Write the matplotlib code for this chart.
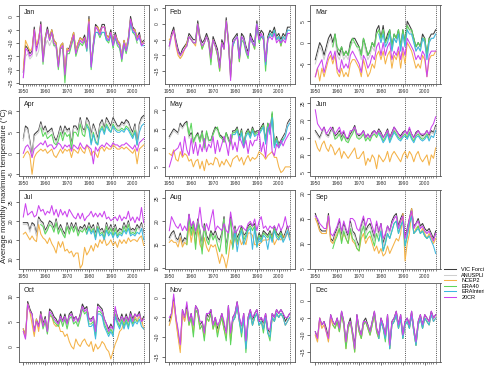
import numpy as np
import matplotlib
matplotlib.use("Agg")
import matplotlib.pyplot as plt

years = list(range(1950, 2006))
years_era40 = list(range(1958, 2003))
years_erai = list(range(1979, 2006))
series_names = ["VIC Forcing", "ANUSPLIN", "NCEP2", "ERA40", "ERAInterim", "20CR"]
months = ["Jan", "Feb", "Mar", "Apr", "May", "Jun", "Jul", "Aug", "Sep", "Oct", "Nov", "Dec"]
xtick_labels = [1950, 1960, 1970, 1980, 1990, 2000]

# ---------------- January ----------------
jan_vic = [-21,-11,-12,-14,-13,-4,-12,-9,-2,-16, -8,-4,-8,-5,-9,-10,-18,-11,-10,-21, -12,-12,-9,-6,-13,-10,-8,-9,-7,-11, 0,-18,-10,-3,-4,-6,-3,-3,-7,-8, -5,-10,-6,-9,-10,-15,-9,-12,-8,0, -4,-5,-8,-6,-10,-9]
jan_anus = [-23,-15,-14,-16,-15,-8,-15,-13,-7,-17, -11,-9,-11,-9,-11,-12,-19,-12,-11,-21, -12,-13,-10,-7,-13,-11,-9,-10,-8,-12, -2,-18,-11,-4,-5,-7,-4,-4,-8,-9, -6,-11,-7,-10,-11,-15,-10,-12,-9,-2, -5,-6,-9,-7,-11,-10]
jan_ncep = [-20,-9,-11,-13,-12,-5,-11,-8,-3,-16, -8,-5,-8,-5,-9,-10,-18,-11,-10,-21, -12,-13,-9,-6,-13,-10,-8,-9,-8,-11, -1,-18,-11,-4,-4,-6,-4,-4,-7,-8, -6,-10,-7,-9,-10,-15,-9,-12,-8,-1, -5,-5,-8,-7,-10,-10]
jan_era40 = [-4,-18, -9,-5,-9,-6,-11,-11,-20,-12,-12,-25, -14,-14,-11,-8,-15,-12,-10,-11,-9,-13, -3,-20,-12,-6,-6,-8,-6,-6,-9,-10, -7,-12,-8,-11,-12,-17,-11,-14,-10,-2, -6,-7,-10]
jan_erai = [-13, -3,-19,-11,-6,-6,-7,-6,-6,-9,-9, -7,-11,-8,-10,-11,-16,-10,-13,-9,-2, -6,-6,-9,-8,-11,-11]
jan_20cr = [-23,-12,-13,-15,-14,-5,-13,-9,-3,-17, -9,-5,-9,-6,-10,-11,-19,-12,-11,-22, -13,-13,-10,-7,-14,-11,-9,-10,-8,-12, -2,-19,-11,-4,-5,-7,-4,-4,-8,-9, -6,-11,-7,-10,-11,-16,-10,-13,-9,-1, -5,-6,-9,-7,-11,-10]

# ---------------- February ----------------
feb_vic = [-7,-3,-1,-5,-8,-10,-8,-7,-6,-3, -4,-5,-5,1,-4,-6,-5,-3,-5,-10, -4,-6,-8,-13,-5,-7,2,-5,-15,-5, -4,-3,-10,-3,-4,-7,-9,-3,-5,-6, 1,-4,-2,-3,-12,-4,-2,-3,-1,-4, -3,-5,-3,-4,-1,-1]
feb_anus = [-8,-4,-2,-6,-9,-11,-9,-8,-7,-4, -5,-6,-6,0,-5,-7,-6,-4,-6,-11, -5,-7,-9,-14,-6,-8,1,-6,-16,-6, -5,-4,-11,-4,-5,-8,-10,-4,-6,-7, 0,-5,-3,-4,-13,-5,-3,-4,-2,-5, -4,-6,-4,-5,-2,-2]
feb_ncep = [-5,-4,-2,-7,-10,-11,-10,-8,-6,-4, -5,-6,-7,0,-5,-8,-6,-4,-6,-12, -5,-7,-10,-15,-6,-8,1,-6,-17,-7, -5,-4,-12,-4,-5,-8,-10,-4,-6,-8, 0,-5,-4,-4,-13,-5,-3,-4,-2,-5, -4,-7,-4,-5,-3,-3]
feb_era40 = [-7,-4, -5,-6,-6,0,-5,-8,-6,-4,-6,-13, -5,-7,-10,-15,-6,-8,1,-6,-17,-7, -5,-4,-12,-5,-6,-9,-11,-4,-6,-8, 0,-6,-4,-5,-15,-5,-3,-4,-2,-5, -4,-7,-4]
feb_erai = [-7, -5,-4,-11,-4,-5,-8,-10,-4,-6,-7, 0,-5,-4,-4,-13,-5,-3,-4,-2,-5, -4,-6,-4,-5,-2,-2]
feb_20cr = [-7,-4,-2,-6,-9,-10,-9,-8,-7,-4, -5,-6,-6,0,-5,-7,-6,-4,-6,-11, -5,-7,-9,-14,-6,-8,1,-6,-18,-6, -5,-4,-11,-4,-5,-8,-10,-4,-6,-7, 0,-5,-3,-5,-12,-5,-4,-5,-3,-6, -5,-6,-5,-6,-3,-3]

# ---------------- March ----------------
mar_vic = [-4,-2,0,-1,-3,-1,1,2,0,2, -2,-3,-1,-3,-2,-3,0,1,1,0, -1,-3,1,-1,-3,-2,0,-1,3,4, 1,4,0,2,3,-1,2,1,3,-1, 3,0,5,4,3,1,-1,0,-1,2, 1,-3,1,2,2,3]
mar_anus = [-5,-3,-1,-2,-4,-2,0,1,-1,1, -3,-4,-2,-4,-3,-4,-1,0,0,-1, -2,-4,0,-2,-4,-3,-1,-2,2,3, 0,3,-1,1,2,-2,1,0,2,-2, 2,-1,4,3,2,0,-2,-1,-2,1, 0,-4,0,1,1,2]
mar_ncep = [-8,-6,-9,-6,-8,-6,-4,-3,-5,-3, -7,-8,-6,-8,-7,-8,-5,-4,-4,-5, -6,-8,-4,-6,-8,-7,-5,-6,-3,-2, -4,-2,-5,-3,-2,-6,-3,-4,-2,-6, -2,-5,0,-1,-2,-4,-6,-5,-6,-3, -4,-8,-4,-3,-3,-2]
mar_era40 = [-1,2, -1,-2,-1,-3,-2,-3,-1,1,0,-1, -1,-3,1,-1,-3,-2,0,-1,2,3, 1,3,0,1,3,-1,2,1,3,-1, 3,0,4,3,3,1,-1,0,-1,1, 1,-3,1]
mar_erai = [2, 0,2,-1,0,2,-2,1,0,2,-2, 2,-1,3,2,2,0,-2,-1,-2,1, 0,-4,0,1,1,2]
mar_20cr = [-8,-6,-5,-4,-7,-5,-3,-2,-4,-2, -6,-7,-4,-6,-5,-6,-3,-2,-3,-4, -5,-7,-3,-4,-6,-5,-3,-4,-1,0, -3,0,-3,-1,0,-4,-2,-3,-1,-4, -1,-3,1,0,-1,-2,-4,-3,-4,-2, -3,-8,-3,-2,-2,-2]

# ---------------- April ----------------
apr_vic = [3.5,6.5,6,3,-0.5,4.5,5,5.5,7.5,5.5, 6.5,5,5.5,6,4,3,4.5,6.5,4.5,6.5, 5.5,6,2,6.5,6.5,5.5,8.5,6,5.5,8.5, 7.5,4.5,7,5.5,3.5,7,8,6,8.5,7.5, 6.5,8.5,7.5,6.5,6.5,7.5,7,8,7.5,6, 5,7,2.5,7,8.5,9]
apr_anus = [3,6,5.5,2.5,-1,4,4.5,5,7,5, 6,4.5,5,5.5,3.5,2.5,4,6,4,6, 5,5.5,1.5,6,6,5,8,5.5,5,8, 7,4,6.5,5,3,6.5,7.5,5.5,8,7, 6,8,7,6,6,7,6.5,7.5,7,5.5, 4.5,6.5,2,6.5,8,8.5]
apr_ncep = [-1,0,0.5,-0.5,-5,-1,0,0.5,1,0.5, 1,0,0.5,1,-0.5,-1,0,1,0,1, 0.5,1,-1,1,0.5,0,1.5,0.5,0,2, 1,-0.5,0.5,0,-1,1,1.5,0.5,1.5,1, 1,2,1.5,1,1,1.5,1,1.5,1,0.5, 0,1,-2.5,1,1.5,2]
apr_era40 = [6,4, 5,3.5,4,4.5,2.5,2,3,5,3,5, 4,4.5,1,5,5,4,7,4.5,4,7, 6,2.5,5,3,2,5.5,6.5,5,7,6, 5,7,6,5.5,5.5,6,5.5,6.5,6,5, 4,5.5,2]
apr_erai = [6.5, 5.5,2,4.5,2.5,2,5,6,4.5,6.5,5.5, 5,6.5,5.5,5,5,5.5,5,6,5.5,4.5, 3.5,5,2,5,6.5,7]
apr_20cr = [0,1.5,2,1,-1,1,1.5,2,2.5,2, 3,1.5,2,2,1,1.5,2.5,2,1,2, 1.5,2,0.5,2,1.5,1,2.5,1.5,1,2, 1.5,1,-2.5,1.5,0.5,1.5,2,1.5,2.5,2, 1.5,2.5,2,2,1.5,2,2,2.5,2,1.5, 1,2,0.5,2.5,3,3.5]

# ---------------- May ----------------
may_vic = [13,14,15,14.5,14,16.5,15.5,16.5,17,13, 14,11.5,13,14,12,14.5,10,14,12,12, 14,15.5,15,13.5,13,12,14,12.5,11,14.5, 14.5,15.5,13,15,11,14,15,13.5,15.5,14, 14.5,14.5,15.5,16.5,12,16.5,14.5,19,11,13, 11,12,13,14,16.5,17.5]
may_anus = [12.5,13.5,14.5,14,13.5,16,15,16,16.5,12.5, 13.5,11,12.5,13.5,11.5,14,9.5,13.5,11.5,11.5, 13.5,15,14.5,13,12.5,11.5,13.5,12,10.5,14, 14,15,12.5,14.5,10.5,13.5,14.5,13,15,13.5, 14,14,15,16,11.5,16,14,18.5,10.5,12.5, 10.5,11.5,12.5,13.5,16,17]
may_ncep = [8.5,8,9.5,7,6.5,9,7.5,8.5,8,6.5, 7,5,6.5,7,4.5,6.5,4,7,5.5,6, 5.5,7.5,7,5,6.5,5.5,7,6,5,7, 7.5,8,6.5,7.5,5.5,7,8,6.5,7.5,7, 7.5,9,8.5,8,7,8,8.5,9,7.5,7.5, 5,3.5,4,5,5,5]
may_era40 = [16.5,13.5, 16.5,11.5,13,13.5,11.5,14,10,14.5,12,12, 13.5,15,15.5,13,12.5,11.5,14,12,11,14, 14,15,12.5,14.5,10.5,13.5,14.5,13,15,13.5, 14,14,15,16,11.5,16.5,14,19.5,10.5,12.5, 10.5,11.5,12.5]
may_erai = [13.5, 13.5,14.5,12,14,10,13,14,12.5,14.5,13, 13.5,13.5,14.5,15.5,11,15.5,13.5,18,10,12, 10,11,12,13,15.5,16.5]
may_20cr = [5,7,9,9.5,10,11.5,8,13,9.5,8, 12.5,8.5,11.5,8,11,9,12.5,9,11,10, 13,8.5,12,9,11,13,11,8,13.5,9.5, 11.5,9,13,11.5,10,12,8.5,12,10.5,12, 12,14.5,9,11.5,7.5,14,16.5,9,8,11, 10,12,10.5,12,13,14]

# ---------------- June ----------------
jun_vic = [17,16,15,16.5,18,16,15.5,17,18,15.5, 16,17,15,16.5,15,14.5,16,17,18.5,16, 15.5,16,17,15,16,15,16.5,17,16,17.5, 16.5,15,16,17.5,15,16.5,18,17,16,15.5, 16.5,17,16,17.5,16,15,16.5,17,16,15.5, 16,17,15.5,17,16.5,18.5]
jun_anus = [16.5,15.5,14.5,16,17.5,15.5,15,16.5,17.5,15, 15.5,16.5,14.5,16,14.5,14,15.5,16.5,18,15.5, 15,15.5,16.5,14.5,15.5,14.5,16,16.5,15.5,17, 16,14.5,15.5,17,14.5,16,17.5,16.5,15.5,15, 16,16.5,15.5,17,15.5,14.5,16,16.5,15.5,15, 15.5,16.5,15,16.5,16,18]
jun_ncep = [14,12,11,13,14,12,11,13,12,10, 11,12,9,11,10,9,10,11,12,9, 9,10,11,7,9,8,10,9,6,10, 9,8,9,11,8,10,11,10,9,8, 10,11,9,11,10,8,10,11,9,8, 9,10,7,10,9,12]
jun_era40 = [17,14.5, 15,16,14,15.5,14,13.5,15,16,17.5,15, 14.5,15,16,14,15,14,15.5,16,15,16.5, 15.5,14,15,16.5,14,15.5,17,16,15,14.5, 15.5,16,15,16.5,15,14,15.5,16,15,14.5, 15,16,14.5]
jun_erai = [16, 15,13.5,14.5,16,13.5,15,16.5,15.5,14.5,14, 15,15.5,14.5,16,14.5,13.5,15,15.5,14.5,14, 14.5,15.5,14,15.5,15,17]
jun_20cr = [23,19,18,17,18,16,17,18,17,16, 17,18,16,17,15,15,17,17,18,16, 16,16,17,15,16,15,16,17,16,17, 16,15,16,17,15,16,18,17,16,15, 16,17,16,18,16,15,16,17,16,16, 16,17,16,18,19,21]

# ---------------- July ----------------
jul_vic = [19.5,19.5,19.5,17.5,19.5,19,16.5,21,20,19.5, 17.5,18.5,20,19.5,18,20.5,17.5,19,17.5,16.5, 19.5,17.5,19.5,18,19.5,17,18.5,18,19,17.5, 19.5,18,19,16.5,19.5,17.5,18,16.5,19.5,17.5, 19,17,19,17,18,17.5,19.5,18,20,17.5, 18,17.5,19,18,19.5,17]
jul_anus = [19,19,19,17,19,18.5,16,20.5,19.5,19, 17,18,19.5,19,17.5,20,17,18.5,17,16, 19,17,19,17.5,19,16.5,18,17.5,18.5,17, 19,17.5,18.5,16,19,17,17.5,16,19,17, 18.5,16.5,18.5,16.5,17.5,17,19,17.5,19.5,17, 17.5,17,18.5,17.5,19,16.5]
jul_ncep = [16.5,17,16,15,16,15,14.5,19,16.5,15.5, 15,14,15.5,14,13,11.5,14.5,13,14.5,12, 12.5,11.5,12,10.5,11.5,11.5,7.5,8.5,13,11, 12,13.5,12,14,13,15,14,15.5,13.5,14, 15,13.5,14.5,13,15,14,15,14,15.5,14.5, 15,15,14.5,15.5,16,13.5]
jul_era40 = [19,18.5, 16.5,17.5,19,18.5,17,19.5,16.5,18,16.5,15.5, 18.5,16.5,18.5,17,18.5,16,17.5,17,18,16.5, 18.5,17,18,15.5,18.5,16.5,17,15.5,18.5,16.5, 18,16,18,16,17,16.5,18.5,17,19,16.5, 17,16.5,18]
jul_erai = [16.5, 18,16.5,17.5,15,18,16,16.5,15,17.5,16, 17,15.5,17,15.5,16.5,16,17.5,16.5,18,16, 16.5,16,17,16.5,18,15]
jul_20cr = [21,24.5,21.5,22,22.5,21,21.5,24,22.5,23, 21.5,22.5,22,24,21.5,23,21,23,21.5,22.5, 21,23,22,21,20.5,22,20.5,22,20,21, 21.5,22.5,21,22,21,22,21,22.5,20.5,21, 20,20.5,21,20,21.5,20,21,20.5,22.5,20, 21,19.5,21,20,23.5,19.5]

# ---------------- August ----------------
aug_vic = [16.5,17.5,18,16.5,16,17.5,15.5,16.5,16,21.5, 18,20,16.5,20.5,18,15,19.5,17,16,18, 17,18,16.5,16,17.5,21,14.5,18,21,15.5, 19,16.5,17.5,19,17,17.5,19,19.5,19,19.5, 15.5,17.5,16.5,18,17.5,17,18,16.5,19,17.5, 17,18,16.5,17.5,19,17]
aug_anus = [16,17,17.5,16,15.5,17,15,16,15.5,21, 17.5,19.5,16,20,17.5,14.5,19,16.5,15.5,17.5, 16.5,17.5,16,15.5,17,20.5,14,17.5,20.5,15, 18.5,16,17,18.5,16.5,17,18.5,19,18.5,19, 15,17,16,17.5,17,16.5,17.5,16,18.5,17, 16.5,17.5,16,17,18.5,16.5]
aug_ncep = [15.5,16,15.5,15.5,14.5,16.5,14.5,15.5,15,19, 15.5,18.5,15,18.5,15,14,16.5,14.5,13.5,15, 14.5,15,13,11,13,12,10,12.5,16,14.5, 16.5,15,16.5,15,16,15,17.5,17.5,17,15, 15,15,15.5,16,16,16,16.5,17,15,16, 16.5,16,17,16.5,17.5,16.5]
aug_era40 = [15,21, 17,19.5,14,20,17,13,19,16,15,17.5, 16,17,15,13.5,16.5,20.5,13,17,20.5,14, 18,15.5,17,18.5,16,17,18.5,19,18,19, 14.5,17,16,17.5,17,16.5,17.5,16,18.5,17, 16.5,17.5,16]
aug_erai = [14.5, 18,13.5,16.5,18,15,16.5,18,18.5,14,18.5, 14.5,16.5,15.5,17,16.5,14,17,15.5,18,16.5, 16,17,15.5,16.5,18,16]
aug_20cr = [18,21,20,19,18.5,19.5,18,19,18,21.5, 19,20,18,19.5,23,19,18,19.5,18,20.5, 22.5,18,19,18.5,18,19.5,18,17.5,22,19, 17.5,18,19,19,18.5,18,19.5,20,19,20.5, 18,20,21,18.5,19,18,19,18.5,19,18, 19.5,18,19,21,18.5,19]

# ---------------- September ----------------
sep_vic = [16,14.5,13,12.5,12.5,12.5,16,11,10.5,12, 13,14.5,11.5,14,12.5,11.5,14.5,12.5,12,10.5, 9.5,13.5,15,12.5,13.5,14,12.5,11,14,12, 14,10,11.5,13.5,12.5,14.5,15.5,16,13.5,15, 16,11,13,15,17,13.5,14,15,13.5,14, 13,12.5,13,12,11,12.5]
sep_anus = [15.5,14,12.5,12,12,12,15.5,10.5,10,11.5, 12.5,14,11,13.5,12,11,14,12,11.5,10, 9,13,14.5,12,13,13.5,12,10.5,13.5,11.5, 13.5,9.5,11,13,12,14,15,15.5,13,14.5, 15.5,10.5,12.5,14.5,16.5,13,13.5,14.5,13,13.5, 12.5,12,12.5,11.5,10.5,12]
sep_ncep = [15,14,12.5,12,12,12,15.5,10.5,10,11, 12,13,10.5,12,11,10,12.5,10.5,10,9, 8.5,11,12,10,11,11.5,10,8.5,9.5,8, 9,7.5,8,9.5,8,9,10,11,10.5,12, 16,6.5,10,12,17,12,13,13.5,12,13, 12,11,12,11,10,11]
sep_era40 = [9,10.5, 11.5,13,10,12.5,11,10,13,11,10.5,9, 8.5,12,13.5,11,12,12.5,11,9.5,12,10.5, 12.5,8.5,10,12,11,12.5,14,14.5,12,13.5, 14.5,9.5,11.5,14,15.5,12,12.5,13.5,12,12.5, 11.5,11,11.5]
sep_erai = [10.5, 12.5,8.5,10,12,11,12.5,14,14.5,12,13.5, 14.5,9.5,11.5,14,15.5,12,12.5,13,12,12.5, 11.5,11,11.5,10.5,9.5,8]
sep_20cr = [15.5,15,14,13.5,13,13,15.5,12,11.5,12.5, 13.5,15,12.5,14.5,13,12,15,15,14.5,13, 12.5,14,15.5,13.5,15,15,13.5,12,14.5,12.5, 14,11,12,13.5,12.5,14,15,15.5,13,14.5, 15.5,11,12.5,15,16.5,13,14,14.5,13,13.5, 12.5,12,12.5,11.5,10.5,12]

# ---------------- October ----------------
oct_vic = [3.5,2,9,7.5,6.5,3,5.5,4,7,4.5, 6,3,7.5,7,6,5.5,4.5,6.5,5,6.5, 4.5,6.5,7,5.5,6,5,6.5,8.5,7.5,8, 5.5,5.5,6,3,8.5,8,7.5,5.5,4.5,3.5, 4.5,3.5,7.5,6,5,6.5,5,6.5,5,7, 5.5,6.5,6,7,5,6]
oct_anus = [3,1.5,8.5,7,6,2.5,5,3.5,6.5,4, 5.5,2.5,7,6.5,5.5,5,4,6,4.5,6, 4,6,6.5,5,5.5,4.5,6,8,7,7.5, 5,5,5.5,2.5,8,7.5,7,5,4,3, 4,3,7,5.5,4.5,6,4.5,6,4.5,6.5, 5,6,5.5,6.5,4.5,5.5]
oct_ncep = [3.5,2,8.5,7,4.5,2,5.5,3,6.5,4, 5,3.5,6,6,4.5,4,4.5,3,3,2, 2.5,1,0,-0.5,1.5,0.5,0,1,1.5,0.5, 0,1,-1,0.5,-0.5,0,1,0.5,-0.5,-1, -2.5,-1,0.5,1.5,3,3.5,5,4.5,5,5.5, 4.5,6,5,6,5.5,3.5]
oct_era40 = [6,3.5, 5,2.5,6.5,6,5,4.5,4,5.5,4,5.5, 3.5,5.5,6,4.5,5,4,5.5,7.5,6.5,7, 4.5,4.5,5,2,7,7,6.5,4.5,3.5,2.5, 3.5,2.5,6.5,5,4,5.5,4,5.5,4,6, 4.5,5.5,5]
oct_erai = [6.5, 4,4,4.5,1.5,6.5,6.5,6,4,3,2, 3,2,6,4.5,3.5,5,3.5,5,3.5,5.5, 4,5,4.5,5.5,4,3.5]
oct_20cr = [3,1.5,8.5,7,6.5,3,5,4,6.5,4, 5.5,3,7,6.5,5.5,5,4.5,6,5,6, 4.5,6,6.5,5,6,5,6,8,7,7.5, 5.5,5,6,3,8,7.5,7,5.5,4.5,3, 4,3.5,8,5.5,5,6,5,6,5,6.5, 5,6.5,6,6.5,5,5.5]

# ---------------- November ----------------
nov_vic = [-6,-4,0,-5,-9,-13,-3,-5,-2,-6, -4,-8,-2,-3,-7,-6,-9,-4,-5,-3, -7,-5,-8,-6,-4,-7,-9,-2,-10,-5, -4,-1,-5,-8,-4,-12,-5,-3,-6,-4, -3,-6,-5,-7,-4,-8,-9,-4,-5,-3, -4,-3,-4,-6,-5,-4]
nov_anus = [-7,-5,-1,-5,-10,-13,-4,-6,-3,-6, -5,-8,-3,-4,-7,-7,-10,-5,-5,-4, -7,-6,-9,-6,-5,-8,-9,-3,-11,-6, -5,-2,-6,-8,-5,-12,-6,-4,-6,-5, -4,-7,-6,-7,-5,-9,-9,-5,-6,-4, -5,-4,-5,-7,-6,-5]
nov_ncep = [-7,-5,-1,-6,-10,-14,-4,-6,-3,-7, -5,-9,-3,-4,-8,-7,-10,-5,-6,-4, -8,-6,-9,-7,-5,-8,-10,-3,-11,-6, -5,-2,-6,-9,-5,-13,-6,-4,-7,-5, -4,-7,-6,-8,-5,-9,-10,-5,-6,-4, -5,-4,-5,-7,-6,-5]
nov_era40 = [-3,-7, -5,-10,-3,-4,-8,-7,-11,-5,-6,-4, -8,-6,-10,-7,-5,-8,-11,-3,-12,-6, -5,-2,-6,-10,-5,-14,-6,-4,-7,-5, -4,-7,-6,-9,-5,-9,-11,-5,-6,-4, -5,-4,-5]
nov_erai = [-6, -5,-2,-6,-9,-5,-13,-6,-4,-7,-5, -4,-7,-6,-8,-5,-9,-10,-5,-6,-4, -5,-4,-5,-7,-6,-5]
nov_20cr = [-5,-4,1,-5,-8,-12,-3,-5,-1,-6, -4,-7,-2,-3,-6,-6,-9,-4,-4,-3, -7,-5,-7,-6,-4,-6,-9,-2,-9,-5, -4,-1,-5,-7,-4,-11,-5,-3,-5,-4, -3,-6,-5,-6,-4,-8,-8,-4,-5,-3, -4,-3,-4,-5,-5,-4]

# ---------------- December ----------------
dec_vic = [-9,-11,-5,-7,-6,-8,-11,-4,-6,-7, -5,-8,-3,-6,-12,-7,-5,-9,-13,-4, -8,-10,-6,-5,-7,-9,-6,-3,-8,-10, -5,-7,-10,-4,-13,-6,-5,-3,-7,-4, -10,-6,-5,-7,-3,-8,-12,-6,-4,-7, -4,-5,-6,-3,-5,-4]
dec_anus = [-10,-12,-6,-8,-7,-9,-12,-5,-7,-8, -6,-9,-4,-7,-13,-8,-6,-10,-14,-5, -9,-11,-7,-6,-8,-10,-7,-4,-9,-11, -6,-8,-11,-5,-14,-7,-6,-4,-8,-5, -11,-7,-6,-8,-4,-9,-13,-7,-5,-8, -5,-6,-7,-4,-6,-5]
dec_ncep = [-10,-12,-5,-8,-7,-9,-12,-5,-7,-8, -6,-9,-4,-7,-14,-8,-6,-10,-15,-5, -9,-11,-7,-6,-8,-10,-7,-4,-9,-11, -6,-8,-11,-5,-14,-7,-6,-4,-8,-5, -11,-7,-6,-8,-4,-9,-13,-7,-5,-8, -5,-6,-7,-4,-6,-5]
dec_era40 = [-7,-8, -6,-9,-4,-7,-14,-8,-6,-10,-15,-5, -9,-11,-7,-6,-8,-10,-7,-4,-9,-11, -6,-8,-12,-5,-14,-7,-6,-4,-8,-5, -11,-7,-6,-8,-4,-9,-13,-7,-5,-8, -5,-6,-7]
dec_erai = [-11, -6,-8,-11,-5,-14,-7,-6,-4,-8,-5, -11,-7,-6,-8,-4,-9,-13,-7,-5,-8, -5,-6,-7,-4,-6,-5]
dec_20cr = [-9,-11,-5,-7,-6,-9,-11,-4,-6,-7, -5,-8,-3,-6,-12,-7,-6,-9,-14,-4, -8,-10,-6,-6,-7,-9,-6,-3,-8,-10, -5,-7,-10,-4,-13,-6,-5,-3,-7,-4, -10,-6,-5,-7,-3,-8,-12,-6,-4,-7, -4,-5,-6,-3,-5,-4]

panel_data = [
    (jan_vic, jan_anus, jan_ncep, jan_era40, jan_erai, jan_20cr),
    (feb_vic, feb_anus, feb_ncep, feb_era40, feb_erai, feb_20cr),
    (mar_vic, mar_anus, mar_ncep, mar_era40, mar_erai, mar_20cr),
    (apr_vic, apr_anus, apr_ncep, apr_era40, apr_erai, apr_20cr),
    (may_vic, may_anus, may_ncep, may_era40, may_erai, may_20cr),
    (jun_vic, jun_anus, jun_ncep, jun_era40, jun_erai, jun_20cr),
    (jul_vic, jul_anus, jul_ncep, jul_era40, jul_erai, jul_20cr),
    (aug_vic, aug_anus, aug_ncep, aug_era40, aug_erai, aug_20cr),
    (sep_vic, sep_anus, sep_ncep, sep_era40, sep_erai, sep_20cr),
    (oct_vic, oct_anus, oct_ncep, oct_era40, oct_erai, oct_20cr),
    (nov_vic, nov_anus, nov_ncep, nov_era40, nov_erai, nov_20cr),
    (dec_vic, dec_anus, dec_ncep, dec_era40, dec_erai, dec_20cr),
]
series_years = [years, years, years, years_era40, years_erai, years]

for m, pdat in zip(months, panel_data):
    for name, s, yr in zip(series_names, pdat, series_years):
        assert len(s) == len(yr), (m, name, len(s), len(yr))

# ---------------- styling / layout ----------------
plt.rcParams['font.family'] = ['Liberation Sans', 'DejaVu Sans']
colors = ["#3c3c3c", "#cfcfcf", "#f4b247", "#5cd65c", "#3db8e0", "#cc44ee"]

ylims = [(-25.4, 4.3), (-19.1, 6.05), (-9.7, 8.8),
         (-5.4, 13.4), (2.6, 23.4), (3.9, 26.7),
         (7.3, 28.1), (9.8, 26.7), (4.9, 20.7),
         (-3.1, 12.7), (-16.4, 3.8), (-17.9, 5.3)]
yticks = [[-25, -20, -15, -10, -5, 0], [-15, -10, -5, 0, 5], [-5, 0, 5],
          [-5, 0, 5, 10], [5, 10, 15, 20], [5, 10, 15, 20, 25],
          [10, 15, 20, 25], [10, 15, 20, 25], [5, 10, 15, 20],
          [0, 5, 10], [-15, -10, -5, 0], [-15, -10, -5, 0]]

W, H = 485.0, 366.0
fig = plt.figure(figsize=(4.85, 3.66), dpi=100)
col_left = [18.5, 164.5, 310.5]
col_w = 130
row_top = [5, 97, 190, 283]
row_h = 79

handles = None
for i, (m, pdat) in enumerate(zip(months, panel_data)):
    r, c = divmod(i, 3)
    ax = fig.add_axes([col_left[c] / W, 1 - (row_top[r] + row_h) / H, col_w / W, row_h / H])
    hs = []
    for k, (s, yr) in enumerate(zip(pdat, series_years)):
        h, = ax.plot(yr, s, color=colors[k], lw=0.75, zorder=2 + k * 0.1)
        hs.append(h)
    handles = hs
    ax.axvline(1991, color="#555555", ls=(0, (1, 1.2)), lw=0.7, zorder=1)
    ax.axvline(2005, color="#555555", ls=(0, (1, 1.2)), lw=0.7, zorder=1)
    ax.set_xlim(1947.8, 2007.2)
    ax.set_ylim(*ylims[i])
    ax.set_xticks(xtick_labels)
    ax.set_xticks(years, minor=True)
    ax.set_yticks(yticks[i])
    ax.tick_params(axis='both', which='major', labelsize=3.6, length=2.5, width=0.5,
                   pad=1.2, colors="#333333")
    ax.tick_params(axis='x', which='minor', length=1.5, width=0.4, colors="#333333")
    ax.tick_params(axis='y', which='major', labelrotation=90)
    if r == 3:
        # bottom row labels fall outside the cropped picture
        ax.tick_params(axis='x', which='major', labelbottom=False)
    for lab in ax.get_yticklabels():
        lab.set_va('center')
    for sp in ax.spines.values():
        sp.set_color("#555555")
        sp.set_linewidth(0.6)
    ax.text(0.04, 0.95, m, transform=ax.transAxes, fontsize=5, va='top', ha='left', color="#222222")

fig.legend(handles, series_names, loc='upper left', bbox_to_anchor=(444 / W, 1 - 267 / H),
           frameon=False, fontsize=4, handlelength=2.2, handletextpad=0.9,
           labelspacing=0.1, borderaxespad=0, borderpad=0)

fig.text(4 / W, 1 - 186 / H, "Average monthly maximum temperature (°C)", rotation=90,
         fontsize=5.6, va='center', ha='center', color="#222222")

fig.savefig("out.png", dpi=100)
